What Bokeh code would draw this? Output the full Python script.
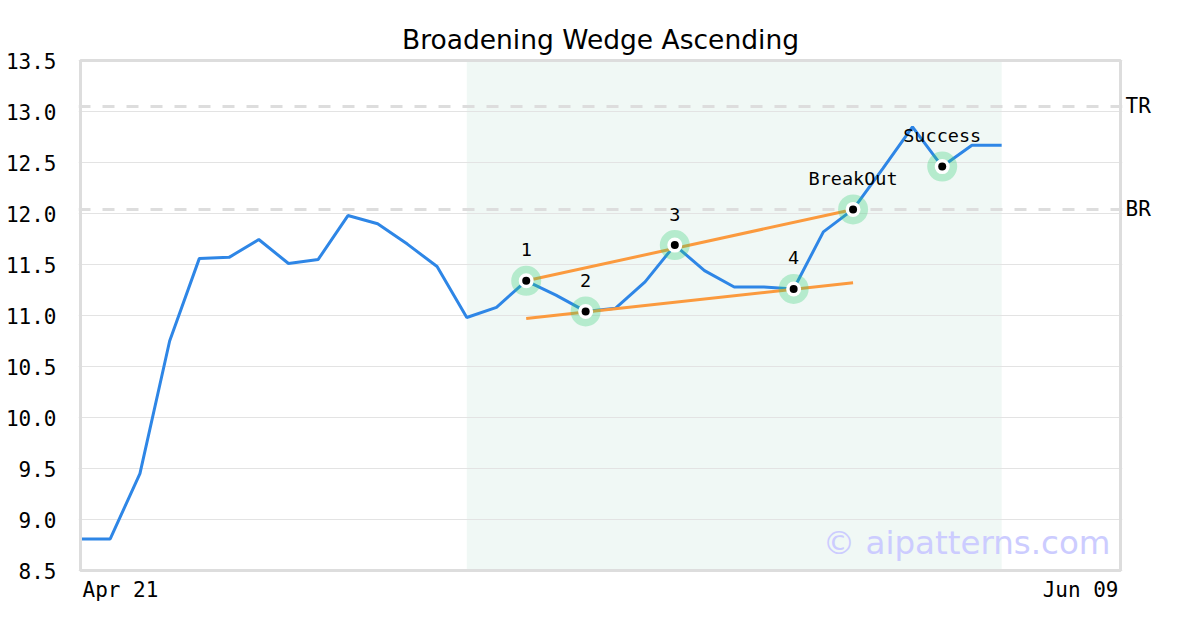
from bokeh.plotting import figure
from bokeh.models import (ColumnDataSource, Span, BoxAnnotation, Label, LinearAxis,
                          FixedTicker, NumeralTickFormatter, Range1d)
from bokeh.core.properties import value
from bokeh.embed import file_html
from bokeh.resources import INLINE

# ---------------- data ----------------
title = "Broadening Wedge Ascending"
x_tick_labels = ["Apr 21", "Jun 09"]
n_slots = 35  # trading-day slots from Apr 21 to Jun 09
y_min, y_max = 8.5, 13.5
y_ticks = [8.5, 9.0, 9.5, 10.0, 10.5, 11.0, 11.5, 12.0, 12.5, 13.0, 13.5]

price = [8.81, 8.81, 9.45, 10.75, 11.56, 11.57, 11.745, 11.51, 11.55, 11.98,
         11.90, 11.70, 11.48, 10.98, 11.08, 11.34, 11.20, 11.04, 11.07, 11.33,
         11.69, 11.44, 11.28, 11.28, 11.26, 11.82, 12.04, 12.44, 12.85, 12.46,
         12.67, 12.67]
days = list(range(len(price)))

pattern_idx = [15, 17, 20, 24, 26, 29]
pattern_labels = ["1", "2", "3", "4", "BreakOut", "Success"]

upper_x = [15, 26]
upper_y = [11.34, 12.04]
lower_x = [15, 26]
lower_y = [10.97, 11.32]

shade_start, shade_end = 13, 31
level_values = [13.05, 12.04]
level_names = ["TR", "BR"]
watermark = "\u00a9 aipatterns.com"

# ---------------- layout constants ----------------
MONO = "DejaVu Sans Mono"
BOX_W, BOX_H = 1040, 510          # visible chart box in px
PAD = 2                            # px of frame beyond the box (left/right/top)
BOTTOM_EXTRA = 45                  # px of frame below the box for date labels
ppx = BOX_W / n_slots
ppy = BOX_H / (y_max - y_min)

p = figure(frame_width=BOX_W + 2 * PAD, frame_height=BOX_H + PAD + BOTTOM_EXTRA,
           output_backend="svg", toolbar_location=None,
           x_range=Range1d(0 - PAD / ppx, n_slots + PAD / ppx),
           y_range=Range1d(y_min - BOTTOM_EXTRA / ppy, y_max + PAD / ppy),
           min_border_left=80 - PAD, min_border_right=80 - PAD,
           min_border_top=60 - PAD, min_border_bottom=15)

p.title.text = title
p.title.align = "center"
p.title.text_font = "DejaVu Sans"
p.title.text_font_size = "26.5px"
p.title.text_font_style = "normal"
p.title.text_color = "#000000"
p.title.offset = 0
p.title.standoff = 8

p.outline_line_color = None
p.background_fill_color = "white"
p.border_fill_color = "white"

ticker = FixedTicker(ticks=y_ticks)
p.xgrid.visible = False
p.ygrid.ticker = ticker
p.ygrid.grid_line_color = "#e3e3e3"
p.ygrid.grid_line_width = 1

p.xaxis.visible = False
ya = p.yaxis[0]
ya.ticker = ticker
ya.formatter = NumeralTickFormatter(format="0.0")
ya.axis_line_color = None
ya.major_tick_line_color = None
ya.minor_tick_line_color = None
ya.major_tick_out = 0
ya.major_tick_in = 0
ya.minor_tick_out = 0
ya.major_label_text_font = MONO
ya.major_label_text_font_size = "21px"
ya.major_label_text_color = "#000000"
ya.major_label_standoff = 22

# right axis carrying the level names
ra = LinearAxis(ticker=FixedTicker(ticks=level_values),
                major_label_overrides={v: n for v, n in zip(level_values, level_names)})
ra.axis_line_color = None
ra.major_tick_line_color = None
ra.minor_tick_line_color = None
ra.major_tick_out = 0
ra.major_tick_in = 0
ra.minor_tick_out = 0
ra.major_label_text_font = MONO
ra.major_label_text_font_size = "21px"
ra.major_label_text_color = "#000000"
ra.major_label_standoff = 3
p.add_layout(ra, "right")

# shaded pattern window (beneath grid)
p.add_layout(BoxAnnotation(left=shade_start, right=shade_end,
                           bottom=y_min, top=y_max,
                           fill_color="#f0f8f5", fill_alpha=1.0,
                           line_color=None, level="image"))

# level lines
for v in level_values:
    p.add_layout(Span(location=v, dimension="width", line_color="#dddddd",
                      line_alpha=1.0, line_width=3, line_dash="12 12",
                      level="underlay"))

# chart box outline
p.add_layout(BoxAnnotation(left=0, right=n_slots, bottom=y_min, top=y_max,
                           fill_color=None, fill_alpha=0,
                           line_color="#dddddd", line_alpha=1.0, line_width=3))

# price line
p.line(days, price, line_color="#2e86e6", line_width=3)

# trend lines
p.line(upper_x, upper_y, line_color="#fb9a3e", line_width=3)
p.line(lower_x, lower_y, line_color="#fb9a3e", line_width=3)

# markers
py = [price[i] for i in pattern_idx]
src = ColumnDataSource(dict(x=pattern_idx, y=py, t=pattern_labels))
p.scatter("x", "y", source=src, size=30, fill_color="#2ecc71", fill_alpha=0.3,
          line_color=None)
p.scatter("x", "y", source=src, size=15, fill_color="white", line_color=None)
p.scatter("x", "y", source=src, size=8, fill_color="black", line_color=None)
p.text("x", "y", text="t", source=src, text_font=value(MONO),
       text_font_size="18.5px", text_align="center", text_baseline="middle",
       y_offset=-31, text_color="#000000")

# date labels at the box edges
p.text(x=[0], y=[y_min], text=[x_tick_labels[0]], text_font=value(MONO),
       text_font_size="21px", text_align="left", text_baseline="top",
       x_offset=2, y_offset=7, text_color="#000000")
p.text(x=[n_slots], y=[y_min], text=[x_tick_labels[1]], text_font=value(MONO),
       text_font_size="21px", text_align="right", text_baseline="top",
       x_offset=-2, y_offset=7, text_color="#000000")

# watermark
p.add_layout(Label(x=n_slots, y=y_min, x_offset=-10, y_offset=28, text=watermark,
                   text_font="DejaVu Sans", text_font_size="32.5px",
                   text_align="right", text_baseline="middle",
                   text_color="#ccccff"))

open("out.html", "w").write(file_html(p, INLINE))
